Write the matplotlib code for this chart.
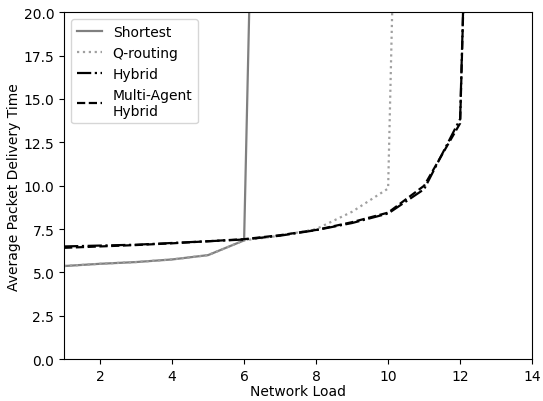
import matplotlib
matplotlib.use('Agg')
import matplotlib.pyplot as plt

# network load values and delivery times
shortest_x = [1, 2, 3, 4, 5, 6, 7]
shortest_y = [5.37, 5.5, 5.6, 5.75, 6.0, 6.85, 100]

qrout_x = [1, 2, 3, 4, 5, 6, 7, 8, 9, 10, 11]
qrout_y = [5.37, 5.5, 5.6, 5.75, 6.0, 6.85, 7.12, 7.5, 8.5, 9.84, 100]

hybrid_x = [1, 2, 3, 4, 5, 6, 7, 8, 9, 10, 11, 12, 13]
hybrid_y = [6.5, 6.55, 6.6, 6.7, 6.8, 6.9, 7.12, 7.44, 7.85, 8.4, 9.8, 13.85, 90]

multi_x = [1, 2, 3, 4, 5, 6, 7, 8, 9, 10, 11, 12, 13]
multi_y = [6.42, 6.5, 6.58, 6.68, 6.8, 6.92, 7.15, 7.45, 7.9, 8.45, 10.0, 13.6, 90]

fig = plt.figure(figsize=(5.43, 4.02), dpi=100)
ax = fig.add_axes([0.118, 0.104, 0.862, 0.863])

ax.plot(shortest_x, shortest_y, '-', color='#808080', lw=1.6, label='Shortest')
ax.plot(qrout_x, qrout_y, ':', color='#a0a0a0', lw=1.6, label='Q-routing')
ax.plot(hybrid_x, hybrid_y, '-.', color='black', lw=1.6, label='Hybrid')
ax.plot(multi_x, multi_y, '--', color='black', lw=1.6, label='Multi-Agent\nHybrid')

ax.set_xlim(1, 14)
ax.set_ylim(0, 20)
ax.set_xticks([2, 4, 6, 8, 10, 12, 14])
ax.set_yticks([0, 2.5, 5, 7.5, 10, 12.5, 15, 17.5, 20])
ax.set_xlabel('Network Load', labelpad=1)
ax.set_ylabel('Average Packet Delivery Time', labelpad=2)
ax.legend(loc='upper left', handlelength=1.8)

plt.savefig('out.png', dpi=100)
